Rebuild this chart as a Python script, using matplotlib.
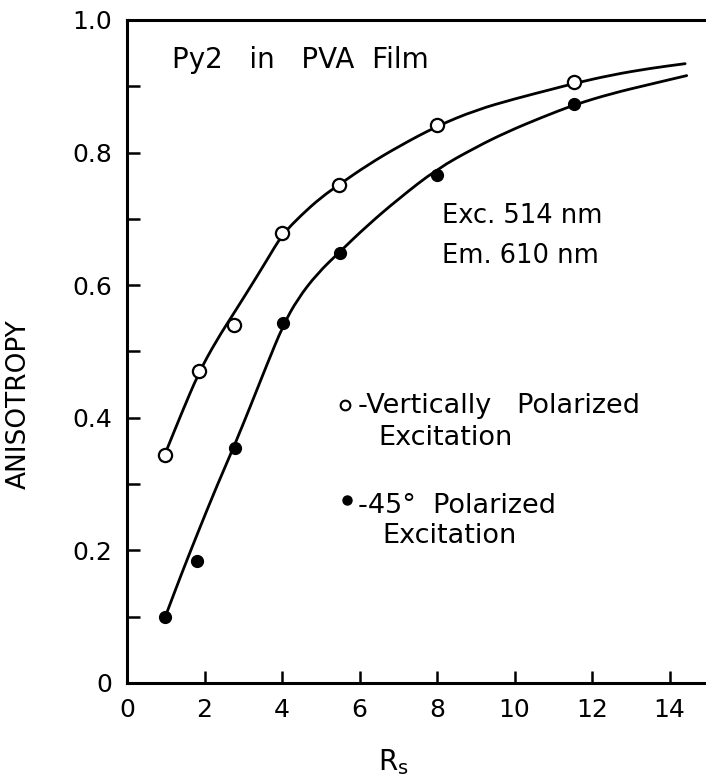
import matplotlib.pyplot as plt
from matplotlib.patches import PathPatch
from matplotlib.path import Path
from matplotlib.ticker import MultipleLocator

plt.rcParams["font.family"] = ["DejaVu Sans"]

# measured points: vertically polarized excitation (open circles)
rs_vert = [0.97, 1.85, 2.77, 4.0, 5.48, 8.0, 11.52]
aniso_vert = [0.344, 0.471, 0.540, 0.678, 0.751, 0.842, 0.906]

# measured points: 45 degree polarized excitation (filled circles)
rs_45 = [0.98, 1.81, 2.79, 4.03, 5.5, 7.99, 11.54]
aniso_45 = [0.099, 0.184, 0.354, 0.543, 0.649, 0.766, 0.873]

# hand-drawn fit curves traced along their length
curve_vert_x = [0.97, 1.4, 1.85, 2.3, 2.77, 3.2, 3.6, 4.0, 4.5, 5.0, 5.48,
                6.2, 7.0, 8.0, 9.0, 10.0, 11.0, 11.52, 12.5, 13.5, 14.4]
curve_vert_y = [0.344, 0.406, 0.468, 0.516, 0.559, 0.599, 0.637, 0.676,
                0.706, 0.732, 0.752, 0.781, 0.809, 0.840, 0.864, 0.881,
                0.896, 0.904, 0.917, 0.927, 0.934]
curve_45_x = [0.98, 1.4, 1.8, 2.3, 2.79, 3.2, 3.6, 4.03, 4.4, 4.9, 5.5,
              6.2, 7.0, 7.99, 9.0, 9.8, 10.7, 11.54, 12.5, 13.5, 14.44]
curve_45_y = [0.099, 0.164, 0.223, 0.295, 0.361, 0.420, 0.479, 0.540,
              0.579, 0.617, 0.651, 0.690, 0.730, 0.775, 0.808, 0.831,
              0.853, 0.872, 0.889, 0.903, 0.916]

x_ticks = [0, 2, 4, 6, 8, 10, 12, 14]
y_ticks = [0, 0.2, 0.4, 0.6, 0.8, 1.0]
y_tick_labels = ["0", "0.2", "0.4", "0.6", "0.8", "1.0"]


def smooth_path(xs, ys):
    """Quadratic Bezier path using traced points as control points."""
    pts = list(zip(xs, ys))
    verts = [pts[0]]
    codes = [Path.MOVETO]
    mid = ((pts[0][0] + pts[1][0]) / 2, (pts[0][1] + pts[1][1]) / 2)
    verts.append(mid)
    codes.append(Path.LINETO)
    for i in range(1, len(pts) - 1):
        nxt = ((pts[i][0] + pts[i + 1][0]) / 2, (pts[i][1] + pts[i + 1][1]) / 2)
        verts += [pts[i], nxt]
        codes += [Path.CURVE3, Path.CURVE3]
    verts.append(pts[-1])
    codes.append(Path.LINETO)
    return Path(verts, codes)


fig = plt.figure(figsize=(7.06, 7.81), dpi=100)
ax = fig.add_axes([0.180, 0.1255, 0.819, 0.849])

for cx, cy in ((curve_vert_x, curve_vert_y), (curve_45_x, curve_45_y)):
    ax.add_patch(PathPatch(smooth_path(cx, cy), fill=False, ec="black",
                           lw=2.0, capstyle="round", zorder=2))

ax.plot(rs_vert, aniso_vert, "o", ms=9.5, mfc="white", mec="black",
        mew=1.6, zorder=3)
ax.plot(rs_45, aniso_45, "o", ms=8.5, mfc="black", mec="black", zorder=3)

ax.set_xlim(0, 14.92)
ax.set_ylim(0, 1.0)
ax.set_xticks(x_ticks)
ax.set_xticklabels([str(t) for t in x_ticks])
ax.set_yticks(y_ticks)
ax.set_yticklabels(y_tick_labels)
ax.yaxis.set_minor_locator(MultipleLocator(0.1))

ax.tick_params(axis="both", which="both", direction="in", width=1.8,
               labelsize=18, pad=11)
ax.tick_params(axis="both", which="major", length=9)
ax.tick_params(axis="y", which="minor", length=9)

for side in ("left", "bottom", "top"):
    ax.spines[side].set_linewidth(2.2)
ax.spines["right"].set_visible(False)

ax.set_ylabel("ANISOTROPY", fontsize=19)
ax.yaxis.set_label_coords(-0.165, 0.42)
ax.set_xlabel(r"$\mathregular{R_s}$", fontsize=20)
ax.xaxis.set_label_coords(0.46, -0.097)

ax.text(0.078, 0.928, "Py2   in   PVA  Film", transform=ax.transAxes,
        fontsize=20, va="baseline")
ax.text(0.545, 0.694, "Exc. 514 nm", transform=ax.transAxes,
        fontsize=18.5, va="baseline")
ax.text(0.545, 0.633, "Em. 610 nm", transform=ax.transAxes,
        fontsize=18.5, va="baseline")

# key for the two excitation modes
ax.plot([0.377], [0.419], "o", ms=7, mfc="white", mec="black", mew=1.5,
        transform=ax.transAxes, clip_on=False)
ax.text(0.400, 0.4072, "-Vertically   Polarized", transform=ax.transAxes,
        fontsize=19.5, va="baseline")
ax.text(0.434, 0.359, "Excitation", transform=ax.transAxes,
        fontsize=19.5, va="baseline")
ax.plot([0.381], [0.276], "o", ms=6.5, mfc="black", mec="black",
        transform=ax.transAxes, clip_on=False)
ax.text(0.400, 0.2564, "-45°  Polarized", transform=ax.transAxes,
        fontsize=19.5, va="baseline")
ax.text(0.441, 0.211, "Excitation", transform=ax.transAxes,
        fontsize=19.5, va="baseline")

fig.savefig("out.png", dpi=100)
